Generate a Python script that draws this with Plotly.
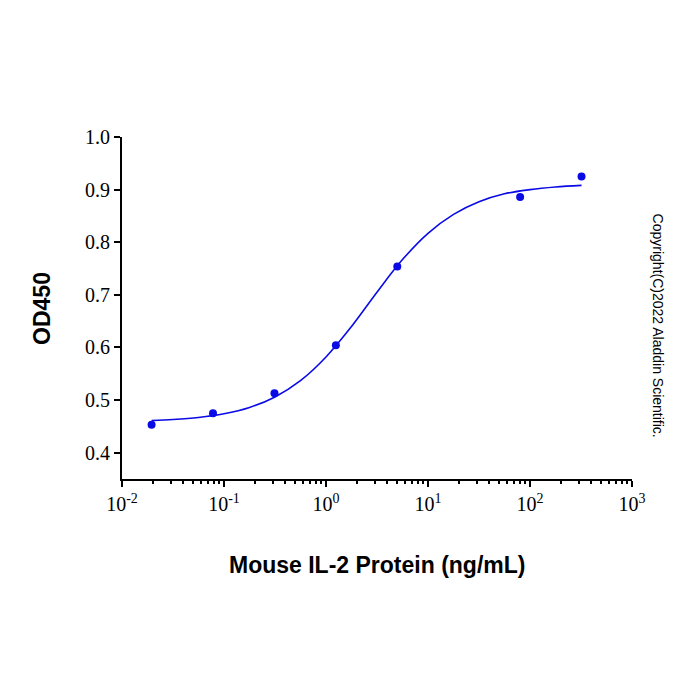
import plotly.graph_objects as go

# Measured data points
conc = [0.0195, 0.078, 0.3125, 1.25, 5.0, 80.0, 320.0]
od450 = [0.453, 0.475, 0.513, 0.604, 0.754, 0.886, 0.925]

# Fitted curve
curve_x = [0.0195, 0.0316, 0.0562, 0.1, 0.178, 0.316, 0.562, 1.0, 1.78, 3.16, 5.62,
           10.0, 17.8, 31.6, 56.2, 100.0, 178.0, 320.0]
curve_y = [0.461, 0.463, 0.467, 0.474, 0.486, 0.506, 0.537, 0.582, 0.640, 0.705, 0.767,
           0.817, 0.853, 0.877, 0.892, 0.900, 0.905, 0.908]

x_tickvals = [0.01, 0.1, 1, 10, 100, 1000]
x_ticktext = ["10<sup>-2</sup>", "10<sup>-1</sup>", "10<sup>0</sup>",
              "10<sup>1</sup>", "10<sup>2</sup>", "10<sup>3</sup>"]
y_tickvals = [0.4, 0.5, 0.6, 0.7, 0.8, 0.9, 1.0]
y_ticktext = ["0.4", "0.5", "0.6", "0.7", "0.8", "0.9", "1.0"]

minor_vals = [m * d for d in [0.01, 0.1, 1, 10, 100] for m in range(2, 10)]

blue = "#0a0ae6"

fig = go.Figure()
fig.add_trace(go.Scatter(x=curve_x, y=curve_y, mode="lines",
                         line=dict(color=blue, width=1.6, shape="spline"),
                         showlegend=False, hoverinfo="skip"))
fig.add_trace(go.Scatter(x=conc, y=od450, mode="markers",
                         marker=dict(color=blue, size=8),
                         showlegend=False))

fig.update_layout(
    width=700, height=700,
    paper_bgcolor="white", plot_bgcolor="white",
    margin=dict(l=122, r=68, t=137, b=221),
    xaxis=dict(type="log", range=[-2, 3], showgrid=False, zeroline=False,
               showline=True, linecolor="black", linewidth=2,
               ticks="outside", ticklen=6, tickwidth=2, tickcolor="black",
               tickmode="array", tickvals=x_tickvals, ticktext=x_ticktext,
               tickfont=dict(family="Liberation Serif", size=20, color="black"),
               minor=dict(tickmode="array", tickvals=minor_vals, ticks="outside",
                          ticklen=3, tickwidth=1.5, tickcolor="black")),
    yaxis=dict(range=[0.35, 1.0], showgrid=False, zeroline=False,
               showline=True, linecolor="black", linewidth=2,
               ticks="outside", ticklen=6, tickwidth=2, tickcolor="black",
               tickmode="array", tickvals=y_tickvals, ticktext=y_ticktext,
               tickfont=dict(family="Liberation Serif", size=20, color="black")),
    annotations=[
        dict(text="<b>Mouse IL-2 Protein (ng/mL)</b>", xref="paper", yref="paper",
             x=0.5, y=-0.25, yanchor="middle", xanchor="center", showarrow=False,
             font=dict(family="Liberation Sans", size=23, color="black")),
        dict(text="<b>OD450</b>", xref="paper", yref="paper", x=-0.157, y=0.5,
             xanchor="center", yanchor="middle", textangle=-90, showarrow=False,
             font=dict(family="Liberation Sans", size=23, color="black")),
        dict(text="Copyright(C)2022 Aladdin Scientific.", xref="paper", yref="paper",
             x=1.05, y=0.45, xanchor="center", yanchor="middle", textangle=90,
             showarrow=False,
             font=dict(family="Liberation Sans", size=14, color="black")),
    ],
)

fig.write_html("out.html")
